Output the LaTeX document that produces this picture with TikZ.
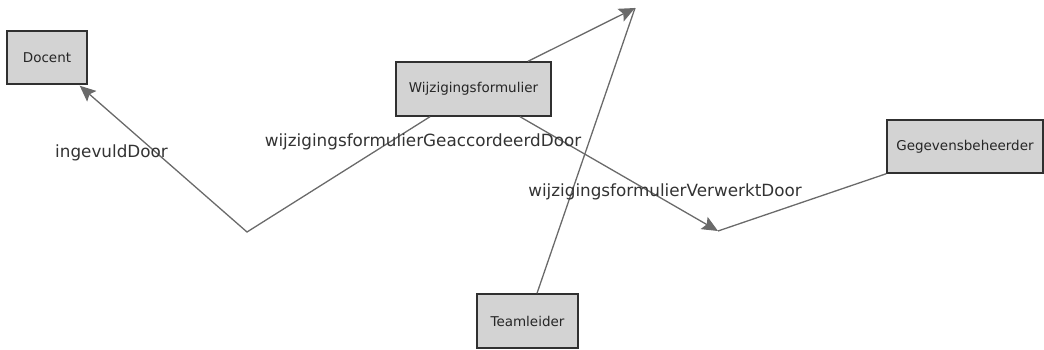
\documentclass[tikz,border=0pt]{standalone}
\usepackage{fontspec}
\setmainfont{DejaVu Sans}
\usetikzlibrary{arrows.meta,calc}
\definecolor{edgegray}{HTML}{6A6A6A}
\definecolor{boxfill}{HTML}{D3D3D3}
\definecolor{boxline}{HTML}{303030}
\tikzset{
  cls/.style={draw=boxline, fill=boxfill, line width=1.4pt, inner sep=0pt, font=\fontsize{13.5}{15}\selectfont, text=black!85},
  rel/.style={draw=edgegray, line width=1.3pt},
  relarrow/.style={rel, -{Stealth[length=16pt,width=14pt,inset=3pt,fill=edgegray]}},
  lbl/.style={font=\fontsize{16.8}{19}\selectfont, text=black!80, anchor=base, inner sep=0pt},
}
\begin{document}
\begin{tikzpicture}[x=1pt,y=1pt]
\useasboundingbox (0,-349) rectangle (1044,0);
\node[cls, minimum width=80pt, minimum height=53pt] (docent) at (47,-57.5) {Docent};
\node[cls, minimum width=155pt, minimum height=54pt] (wijz) at (473.5,-89) {Wijzigingsformulier};
\node[cls, minimum width=156pt, minimum height=53pt] (geg) at (965,-146.5) {Gegevensbeheerder};
\node[cls, minimum width=101pt, minimum height=54pt] (team) at (527.5,-321) {Teamleider};

\coordinate (top) at (635,-8);
\coordinate (bendA) at (247,-232);
\coordinate (tipB) at (718,-231);

\draw[relarrow] ([xshift=54.5pt]wijz.north) -- (top);
\draw[rel] ([xshift=9.5pt]team.north) -- (top);
\draw[relarrow] ([xshift=-43.5pt]wijz.south) -- (bendA) -- ([xshift=-8pt,yshift=-1pt]docent.south east);
\draw[relarrow] ([xshift=46.5pt]wijz.south) -- (tipB);
\draw[rel] (geg.south west) -- (tipB);

\node[lbl] (l1) at (111.5,-157.7) {ingevuldDoor};
\node[lbl] (l2) at (423,-146.7) {wijzigingsformulierGeaccordeerdDoor};
\node[lbl] (l3) at (665,-196.7) {wijzigingsformulierVerwerktDoor};
\end{tikzpicture}
\end{document}
